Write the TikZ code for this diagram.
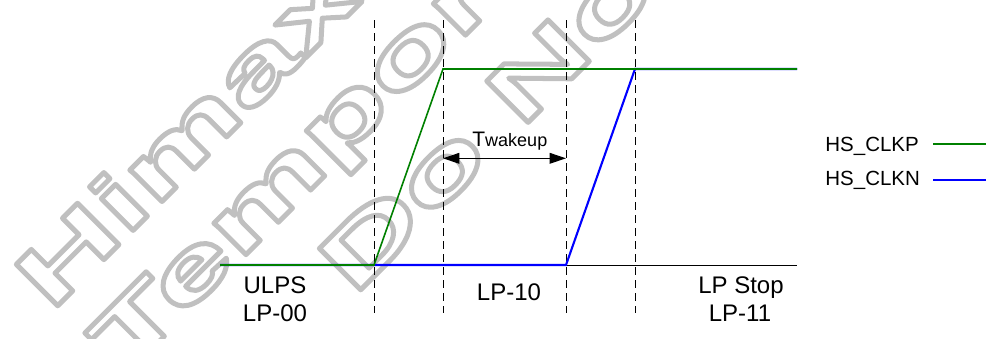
\documentclass[tikz,border=0pt]{standalone}
\usepackage{fontspec}
\setmainfont{Liberation Sans}
\newfontfamily\wmfont[FakeStretch=1.73]{Liberation Sans Bold}
\usetikzlibrary{arrows.meta}
\definecolor{sigP}{HTML}{008000}
\definecolor{sigN}{HTML}{0000FF}
\definecolor{wmgray}{HTML}{C0C0C0}
\newcommand\wmtext[1]{{\wmfont\fontsize{42.5}{42.5}\selectfont\color{wmgray}\special{pdf:literal direct 1 Tr 2.5 w 1 j}#1\special{pdf:literal direct 0 Tr}}}
\begin{document}
\begin{tikzpicture}[x=0.5pt,y=-0.5pt,
  wm/.style={rotate=45,anchor=base west,inner sep=0pt},
  guide/.style={draw=black,line width=0.5pt,dash pattern=on 4pt off 2.5pt},
  axisline/.style={draw=black,line width=0.5pt},
  sigp/.style={draw=sigP,line width=0.8pt,line join=miter},
  sign/.style={draw=sigN,line width=1.05pt,line join=miter},
  lab/.style={inner sep=0pt,anchor=base,font=\fontsize{12}{14}\selectfont},
  leg/.style={inner sep=0pt,anchor=base west,font=\fontsize{10.25}{12}\selectfont},
  dimarrow/.style={draw=black,line width=0.5pt,{Triangle[length=8.2pt,width=5.4pt]}-{Triangle[length=8.2pt,width=5.4pt]}}
]
\useasboundingbox (0,0) rectangle (986,338);
% watermark
\begin{scope}
\clip (0,0) rectangle (986,338);
\node[wm] (wm1) at (50.5,313) {\wmtext{Himax}};
\node[wm] (wm2) at (124.8,375.8) {\wmtext{Tempor}};
\node[wm] (wm3) at (353.5,297) {\wmtext{Do No}};
\end{scope}
% guides
\coordinate (g1t) at (374,20); \coordinate (g1b) at (374,313);
\coordinate (g2t) at (443,20); \coordinate (g2b) at (443,313);
\coordinate (g3t) at (566,20); \coordinate (g3b) at (566,313);
\coordinate (g4t) at (635,20); \coordinate (g4b) at (635,313);
\draw[guide] (g1t) -- (g1b);
\draw[guide] (g2t) -- (g2b);
\draw[guide] (g3t) -- (g3b);
\draw[guide] (g4t) -- (g4b);
% waveform points
\coordinate (lowL) at (220,265);
\coordinate (lowR) at (797,265);
\coordinate (p1) at (374,265);
\coordinate (p2) at (443,69);
\coordinate (n1) at (566,265);
\coordinate (n2) at (635,69);
\coordinate (highR) at (797,69);
\draw[axisline] (lowL) -- (lowR);
\draw[sign] (lowL) -- (n1) -- (n2) -- (highR);
\draw[sigp] (lowL) -- (p1) -- (p2) -- (highR);
% Twakeup
\coordinate (aw1) at (443,158.3);
\coordinate (aw2) at (566,158.3);
\draw[dimarrow] (aw1) -- (aw2);
\node[inner sep=0pt,anchor=base west] (tw) at (472,146) {{\fontsize{10.5}{12}\selectfont T}{\fontsize{9}{10}\selectfont wakeup}};
% state labels
\node[lab] (ulps) at (275,293.3) {ULPS};
\node[lab] (lp00) at (275,321.7) {LP-00};
\node[lab] (lp10) at (509,300.3) {LP-10};
\node[lab] (lpstop) at (741,293.3) {LP Stop};
\node[lab] (lp11) at (740,321.7) {LP-11};
% legend
\node[leg] (legP) at (825,151.7) {HS\_CLKP};
\node[leg] (legN) at (825,185.7) {HS\_CLKN};
\coordinate (lpa) at (933,143.7); \coordinate (lpb) at (986,143.7);
\coordinate (lna) at (933,180.3); \coordinate (lnb) at (986,180.3);
\draw[draw=sigP,line width=1pt] (lpa) -- (lpb);
\draw[draw=sigN,line width=1pt] (lna) -- (lnb);
\end{tikzpicture}
\end{document}
